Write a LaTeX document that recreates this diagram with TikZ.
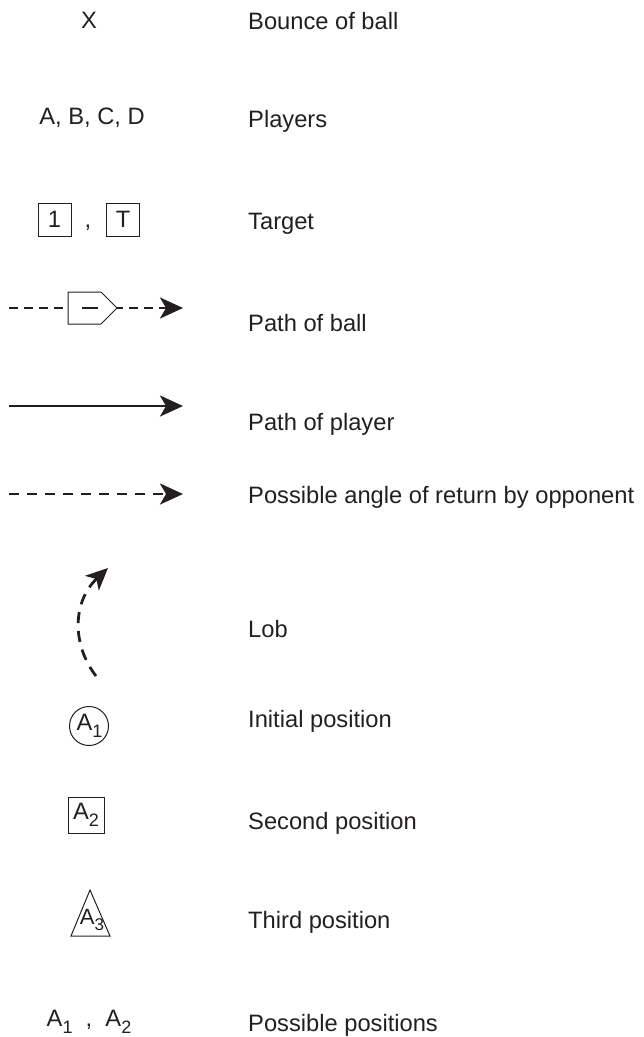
\documentclass[tikz,border=0pt]{standalone}
\usepackage{fontspec}
\setmainfont{Liberation Sans}
\usetikzlibrary{arrows.meta}
\definecolor{ink}{HTML}{231F20}
\newcommand\lsub[1]{\raisebox{-0.28em}{\fontsize{18}{18}\selectfont #1}}
\tikzset{
  every node/.style={text=ink},
  lbl/.style={anchor=base west, inner sep=0pt, font=\fontsize{23.7}{28}\selectfont},
  sym/.style={inner sep=0pt, font=\fontsize{23.7}{28}\selectfont},
  tbox/.style={draw=ink, line width=1pt, minimum size=33pt, inner sep=0pt, font=\fontsize{23.7}{28}\selectfont},
  thick arrow/.style={draw=ink, line width=2.8pt, -{Stealth[length=23pt, width=21pt, inset=6pt]}},
  dashpat/.style={dash pattern=on 9pt off 6pt},
  outline/.style={draw=ink, line width=1pt}
}
\begin{document}
\begin{tikzpicture}[x=1pt,y=-1pt]
\useasboundingbox (0,0) rectangle (644,1037);
% symbols
\node[sym] (x) at (89,20) {X};
\node[sym] (abcd) at (92,118) {A, B, C, D};
\node[tbox] (b1) at (54.5,219.5) {1};
\node[sym, anchor=base] (comma1) at (88,227) {,};
\node[tbox] (bT) at (123,219.5) {T};
% path of ball
\coordinate (pb1) at (9,308);
\coordinate (pb2) at (183,308);
\draw[thick arrow, dashpat] (pb1) -- (pb2);
\filldraw[outline, fill=white] (68,292) coordinate (pA) -- (101,292) -- (117,308) -- (101,324) -- (68,324) -- cycle;
\coordinate (d1) at (82,308);
\coordinate (d2) at (98,308);
\draw[draw=ink, line width=2.8pt] (d1) -- (d2);
% path of player
\coordinate (pp1) at (9,406);
\coordinate (pp2) at (183,406);
\draw[thick arrow] (pp1) -- (pp2);
% possible angle
\coordinate (pa1) at (9,494);
\coordinate (pa2) at (183,494);
\draw[thick arrow, dash pattern=on 10pt off 8pt] (pa1) -- (pa2);
% lob
\coordinate (l1) at (96,676);
\coordinate (l2) at (108,568);
\draw[draw=ink, line width=2.8pt, dash pattern=on 11pt off 8pt, -{Stealth[length=22pt, width=20pt, inset=6pt]}] (l1) .. controls (72,645) and (72,602) .. (l2);
% positions
\node[circle, outline, minimum size=39pt, inner sep=0pt, font=\fontsize{23.7}{28}\selectfont] (c1) at (89,726) {\hspace*{1pt}A\lsub{1}};
\node[outline, minimum size=36pt, inner sep=0pt, font=\fontsize{23.7}{28}\selectfont] (s2) at (86,815) {A\lsub{2}};
\coordinate (t1) at (90,890);
\coordinate (t2) at (110,936);
\coordinate (t3) at (71,936);
\draw[outline, line join=miter] (t1) -- (t2) -- (t3) -- cycle;
\node[sym, font=\fontsize{22}{24}\selectfont] (a3) at (92,920) {A\raisebox{-0.28em}{\fontsize{17}{17}\selectfont 3}};
\node[sym] (pp) at (89,1022) {A\lsub{1}\ \ ,\ \ A\lsub{2}};
% labels
\node[lbl] (L1) at (248,29) {Bounce of ball};
\node[lbl] (L2) at (248,127) {Players};
\node[lbl] (L3) at (248,229) {Target};
\node[lbl] (L4) at (248,331) {Path of ball};
\node[lbl] (L5) at (248,430) {Path of player};
\node[lbl] (L6) at (248,503) {Possible angle of return by opponent};
\node[lbl] (L7) at (248,637) {Lob};
\node[lbl] (L8) at (248,727) {Initial position};
\node[lbl] (L9) at (248,829) {Second position};
\node[lbl] (L10) at (248,928) {Third position};
\node[lbl] (L11) at (248,1031) {Possible positions};
\end{tikzpicture}
\end{document}
